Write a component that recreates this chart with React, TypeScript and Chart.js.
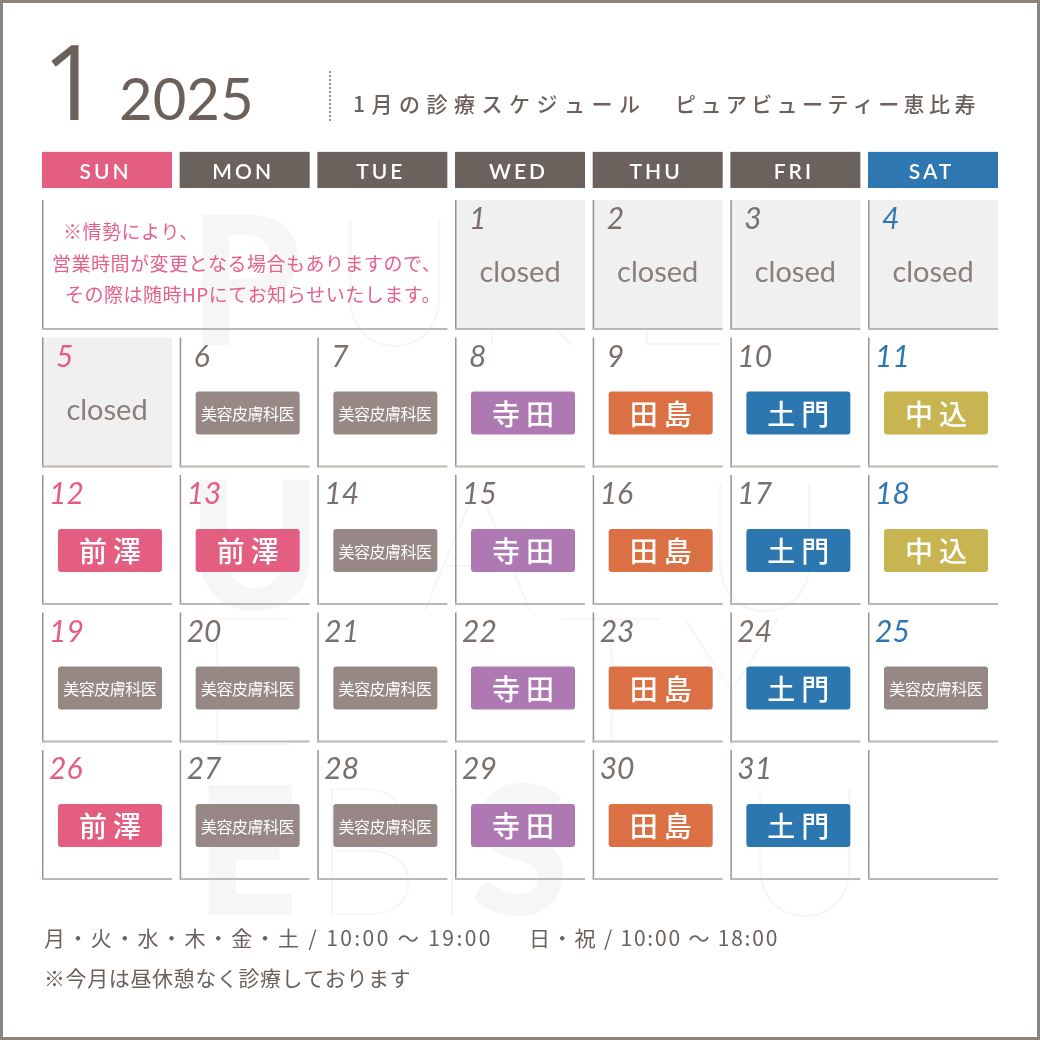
import { useEffect, useRef } from 'react';
import { Chart, registerables } from 'chart.js';

Chart.register(...registerables);

// ---- data ----
const MONTH_LABEL = '1';
const YEAR_LABEL = '2025';
const TITLE_LEFT = '1月の診療スケジュール';
const TITLE_RIGHT = 'ピュアビューティー恵比寿';
const WEEKDAYS = ['SUN', 'MON', 'TUE', 'WED', 'THU', 'FRI', 'SAT'];
const WEEKDAY_COLORS = ['#e35e80', '#6c625d', '#6c625d', '#6c625d', '#6c625d', '#6c625d', '#2e77b0'];
const FIRST_WEEKDAY = 3; // Jan 1 2025 = Wednesday
const DAYS = [1, 2, 3, 4, 5, 6, 7, 8, 9, 10, 11, 12, 13, 14, 15, 16, 17, 18, 19, 20, 21, 22, 23, 24, 25, 26, 27, 28, 29, 30, 31];
const SCHEDULE = [
  'closed', 'closed', 'closed', 'closed', 'closed', '美容皮膚科医', '美容皮膚科医',
  '寺田', '田島', '土門', '中込', '前澤', '前澤', '美容皮膚科医',
  '寺田', '田島', '土門', '中込', '美容皮膚科医', '美容皮膚科医', '美容皮膚科医',
  '寺田', '田島', '土門', '美容皮膚科医', '前澤', '美容皮膚科医', '美容皮膚科医',
  '寺田', '田島', '土門',
];
const HOLIDAYS = [13];
const DOCTORS = ['寺田', '田島', '土門', '中込', '前澤', '美容皮膚科医'];
const DOCTOR_COLORS = ['#ae78b2', '#dc7045', '#2d77b0', '#c8b451', '#e35e80', '#978886'];
const NOTE_LINES = [
  '※情勢により、',
  '営業時間が変更となる場合もありますので、',
  'その際は随時HPにてお知らせいたします。',
];
const FOOTER_HOURS_A = '月・火・水・木・金・土 / 10:00 ～ 19:00';
const FOOTER_HOURS_B = '日・祝 / 10:00 ～ 18:00';
const FOOTER_NOTE = '※今月は昼休憩なく診療しております';

const JP = '"Noto Sans CJK JP", "Noto Sans", sans-serif';
const LATIN = 'Lato, "Noto Sans", sans-serif';
const TEXT_GRAY = '#6b605a';
const NUM_GRAY = '#7a706b';

const CELL_FRAC_X = 130 / 137.67;
const CELL_FRAC_Y = 130 / 137.5;

function spacedText(ctx: CanvasRenderingContext2D, text: string, x: number, y: number, spacing: number, align: 'left' | 'center') {
  ctx.save();
  (ctx as any).letterSpacing = spacing + 'px';
  ctx.textAlign = align;
  ctx.fillText(text, align === 'center' ? x + spacing / 2 : x, y);
  ctx.restore();
}

function roundRect(ctx: CanvasRenderingContext2D, x: number, y: number, w: number, h: number, r: number) {
  ctx.beginPath();
  ctx.moveTo(x + r, y);
  ctx.lineTo(x + w - r, y);
  ctx.quadraticCurveTo(x + w, y, x + w, y + r);
  ctx.lineTo(x + w, y + h - r);
  ctx.quadraticCurveTo(x + w, y + h, x + w - r, y + h);
  ctx.lineTo(x + r, y + h);
  ctx.quadraticCurveTo(x, y + h, x, y + h - r);
  ctx.lineTo(x, y + r);
  ctx.quadraticCurveTo(x, y, x + r, y);
  ctx.closePath();
}

const calendarPlugin = {
  id: 'calendar',
  beforeDatasetsDraw(chart: any) {
    const ctx: CanvasRenderingContext2D = chart.ctx;
    const xs = chart.scales.x;
    const ys = chart.scales.y;
    const W = chart.width;
    const H = chart.height;
    ctx.save();
    // background + frame
    ctx.fillStyle = '#ffffff';
    ctx.fillRect(0, 0, W, H);
    ctx.strokeStyle = '#8a837e';
    ctx.lineWidth = 4;
    ctx.strokeRect(1, 1, W - 2, H - 2);

    // watermark
    ctx.fillStyle = '#f6f6f6';
    ctx.textAlign = 'left';
    ctx.textBaseline = 'alphabetic';
    const wm: [string, number, number, number][] = [
      ['P', 900, 188, 345], ['U', 100, 330, 345], ['R', 100, 470, 345], ['E', 100, 625, 345],
      ['U', 900, 188, 610], ['A', 100, 420, 610], ['U', 100, 700, 610],
      ['E', 100, 195, 745], ['T', 100, 560, 745], ['Y', 100, 680, 745],
      ['E', 900, 195, 915], ['B', 100, 310, 915], ['I', 100, 430, 915], ['S', 900, 470, 915], ['U', 100, 740, 915],
    ];
    for (const [ch, w, x, y] of wm) {
      ctx.font = `${w} 180px ${LATIN}`;
      ctx.fillText(ch, x, y);
    }

    // title
    ctx.fillStyle = TEXT_GRAY;
    ctx.font = `400 104px "Open Sans", ${LATIN}`;
    ctx.fillText(MONTH_LABEL, 42, 120);
    ctx.font = `400 58px ${LATIN}`;
    ctx.fillText(YEAR_LABEL, 119, 120);
    // dotted separator
    ctx.fillStyle = '#9a918c';
    for (let y = 71; y < 121; y += 4) ctx.fillRect(329, y, 2, 2);
    ctx.fillStyle = TEXT_GRAY;
    ctx.font = `500 21px ${JP}`;
    spacedText(ctx, TITLE_LEFT, 353, 112, 6.5, 'left');
    spacedText(ctx, TITLE_RIGHT, 675, 112, 4.4, 'left');

    // weekday header
    const cw = xs.getPixelForValue(CELL_FRAC_X) - xs.getPixelForValue(0);
    const hTop = ys.getPixelForValue(-0.35);
    const hBot = ys.getPixelForValue(-0.087);
    WEEKDAYS.forEach((d, i) => {
      const x0 = xs.getPixelForValue(i);
      ctx.fillStyle = WEEKDAY_COLORS[i];
      ctx.fillRect(x0, hTop, cw, hBot - hTop);
      ctx.fillStyle = '#ffffff';
      ctx.font = `600 21px ${LATIN}`;
      spacedText(ctx, d, x0 + cw / 2 - 3, hTop + 27, 3, 'center');
    });

    // footer
    ctx.fillStyle = TEXT_GRAY;
    ctx.font = `400 21px ${JP}`;
    spacedText(ctx, FOOTER_HOURS_A, 44, 946, 2.4, 'left');
    spacedText(ctx, FOOTER_HOURS_B, 529, 946, 1.8, 'left');
    spacedText(ctx, FOOTER_NOTE, 44, 986, 0.6, 'left');
    ctx.restore();

    // cells
    drawCells(chart);
  },
};

function cellBorders(ctx: CanvasRenderingContext2D, x0: number, y0: number, x1: number, y1: number) {
  ctx.fillStyle = '#9a928e';
  ctx.fillRect(x0, y0, 1.5, y1 - y0);
  ctx.fillStyle = '#bdb7b3';
  ctx.fillRect(x0, y1 - 2, x1 - x0, 2);
}

function drawCells(chart: any) {
  const ctx: CanvasRenderingContext2D = chart.ctx;
  const xs = chart.scales.x;
  const ys = chart.scales.y;
  ctx.save();
  // note cell over the empty leading days
  {
    const x0 = xs.getPixelForValue(0);
    const x1 = xs.getPixelForValue(FIRST_WEEKDAY - 1 + CELL_FRAC_X);
    const y0 = ys.getPixelForValue(0);
    const y1 = ys.getPixelForValue(CELL_FRAC_Y);
    cellBorders(ctx, x0, y0, x1, y1);
    ctx.fillStyle = '#e5608a';
    ctx.font = `400 19px ${JP}`;
    ctx.textBaseline = 'alphabetic';
    const offs = [21, 10, 23];
    NOTE_LINES.forEach((t, i) => spacedText(ctx, t, x0 + offs[i], y0 + 39 + i * 31.5, 0.5, 'left'));
  }
  const totalCells = FIRST_WEEKDAY + DAYS.length;
  const lastCell = Math.ceil(totalCells / 7) * 7;
  for (let idx = FIRST_WEEKDAY; idx < lastCell; idx++) {
    const col = idx % 7;
    const row = Math.floor(idx / 7);
    const x0 = xs.getPixelForValue(col);
    const x1 = xs.getPixelForValue(col + CELL_FRAC_X);
    const y0 = ys.getPixelForValue(row);
    const y1 = ys.getPixelForValue(row + CELL_FRAC_Y);
    const di = idx - FIRST_WEEKDAY;
    const day = DAYS[di];
    const sched = SCHEDULE[di];
    if (sched === 'closed') {
      ctx.fillStyle = '#f0f0f0';
      ctx.fillRect(x0, y0, x1 - x0, y1 - y0);
    }
    cellBorders(ctx, x0, y0, x1, y1);
    if (day === undefined) continue;
    // day number
    let numColor = NUM_GRAY;
    if (col === 0 || HOLIDAYS.includes(day)) numColor = '#e35e80';
    else if (col === 6) numColor = '#2e77b0';
    ctx.fillStyle = numColor;
    ctx.font = `italic 400 30px ${LATIN}`;
    ctx.textAlign = 'left';
    ctx.textBaseline = 'alphabetic';
    ctx.fillText(String(day), x0 + (day < 10 ? 14 : 7), y0 + 29);
    const cx = x0 + (x1 - x0) / 2 + 3;
    if (sched === 'closed') {
      ctx.fillStyle = '#8a7f7a';
      ctx.font = `400 29px ${LATIN}`;
      ctx.textAlign = 'center';
      ctx.fillText('closed', cx - 3, y0 + 82);
    } else if (sched) {
      const k = DOCTORS.indexOf(sched);
      const pw = 104;
      const ph = 43;
      const py = y0 + 54;
      ctx.fillStyle = DOCTOR_COLORS[k];
      roundRect(ctx, cx - pw / 2, py, pw, ph, 3);
      ctx.fill();
      ctx.fillStyle = '#ffffff';
      ctx.textBaseline = 'middle';
      if (sched.length > 2) {
        ctx.font = `400 16px ${JP}`;
        spacedText(ctx, sched, cx, py + ph / 2 + 1, -0.5, 'center');
      } else {
        ctx.font = `500 28px ${JP}`;
        spacedText(ctx, sched, cx, py + ph / 2 + 1, 6, 'center');
      }
    }
  }
  ctx.restore();
}

export default function App() {
  const ref = useRef<HTMLCanvasElement | null>(null);
  useEffect(() => {
    if (!ref.current) return;
    const points = DAYS.map((d, i) => {
      const idx = FIRST_WEEKDAY + i;
      return { x: (idx % 7) + 0.47, y: Math.floor(idx / 7) + 0.47 };
    });
    const chart = new Chart(ref.current, {
      type: 'scatter',
      data: { datasets: [{ data: points, pointRadius: 0, pointHoverRadius: 0 }] },
      options: {
        animation: false,
        responsive: false,
        events: [],
        layout: { padding: { left: 42, right: 1040 - 42 - 7 * 137.67, top: 200, bottom: 1040 - 200 - 5 * 137.5 } },
        plugins: { legend: { display: false }, tooltip: { enabled: false }, title: { display: false } },
        scales: {
          x: { type: 'linear', min: 0, max: 7, display: false },
          y: { type: 'linear', min: 0, max: 5, reverse: true, display: false },
        },
      },
      plugins: [calendarPlugin],
    });
    return () => chart.destroy();
  }, []);
  return (
    <div style={{ position: 'absolute', left: 0, top: 0, width: 1040, height: 1040 }}>
      <canvas ref={ref} width={1040} height={1040} style={{ display: 'block' }} />
    </div>
  );
}
